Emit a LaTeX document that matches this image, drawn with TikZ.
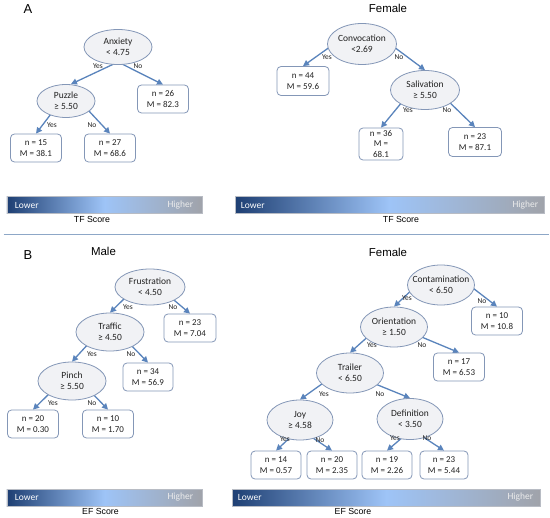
\documentclass[tikz,border=0pt]{standalone}
\usepackage{fontspec}
\setmainfont{Carlito}
\newfontfamily\arialf{Liberation Sans}
\usetikzlibrary{shapes.geometric,arrows.meta,calc,backgrounds}
\definecolor{edgeblue}{HTML}{5A84BC}
\definecolor{nodeborder}{HTML}{8497B7}
\definecolor{ellfill}{HTML}{F1F2F5}
\definecolor{navy}{HTML}{1E3F73}
\definecolor{lightb}{HTML}{9EC4F7}
\definecolor{barGray}{HTML}{A0A3AA}
\definecolor{barEdge}{HTML}{B8BCC4}
\definecolor{sepline}{HTML}{8DA7C7}
\definecolor{txt}{HTML}{222222}
\tikzset{
  splitnode/.style={ellipse, draw=nodeborder, fill=ellfill, line width=0.8bp,
    inner xsep=-12bp, inner ysep=-4bp, minimum width=67bp, minimum height=40bp,
    align=center, text=txt, font=\fontsize{9.5}{11.5}\selectfont},
  leafbox/.style={rectangle, rounded corners=4bp, draw=nodeborder, fill=white, line width=0.8bp,
    minimum width=51bp, minimum height=28bp, inner sep=0pt, align=center, text=txt,
    font=\fontsize{9}{11}\selectfont},
  arr/.style={draw=edgeblue, line width=1.3bp, -{Triangle[length=6bp,width=6bp]}},
  yn/.style={inner sep=0pt, text=txt, font=\fontsize{7.5}{8}\selectfont},
  scorebar/.style={rectangle, inner sep=0pt, minimum height=17bp, draw=barEdge, line width=0.5bp,
    left color=navy, right color=barGray, middle color=lightb},
  barlbl/.style={inner sep=0pt, text=white, font=\fontsize{9.5}{11}\selectfont},
  title/.style={inner sep=0pt, text=black, font=\arialf\fontsize{11.5}{13}\selectfont},
  panel/.style={inner sep=0pt, text=black, font=\arialf\fontsize{13}{15}\selectfont},
  scorelbl/.style={inner sep=0pt, text=black, font=\arialf\fontsize{8.8}{10}\selectfont}
}
\begin{document}
\begin{tikzpicture}[x=1bp,y=-1bp]
\useasboundingbox (0,0) rectangle (550,518);

% ---------- Panel A ----------
\node[panel] (pa) at (28,9) {A};
\node[title] (fa) at (388,8) {Female};

\node[splitnode, minimum width=68bp, minimum height=35bp] (anx) at (118,47) {Anxiety\\< 4.75};
\node[splitnode, minimum width=58bp, minimum height=33bp] (puz) at (66,101) {Puzzle\\≥ 5.50};
\node[leafbox] (a26) at (163,99) {n = 26\\M = 82.3};
\node[leafbox] (a15) at (36,148) {n = 15\\M = 38.1};
\node[leafbox] (a27) at (110,148) {n = 27\\M = 68.6};

\node[splitnode, minimum width=69bp, minimum height=41bp] (convo) at (362,44) {Convocation\\<2.69};
\node[splitnode, minimum width=69bp, minimum height=39bp] (sal) at (425,90) {Salivation\\≥ 5.50};
\node[leafbox, minimum width=52bp, minimum height=29bp] (f44) at (303,81) {n = 44\\M = 59.6};
\node[leafbox, minimum width=44bp, minimum height=32bp] (f36) at (381,144) {n = 36\\M =\\68.1};
\node[leafbox, minimum width=53bp, minimum height=29bp] (f23) at (475,142) {n = 23\\M = 87.1};

\node[yn] (ya1) at (98,66) {Yes};
\node[yn] (na1) at (138,66) {No};
\node[yn] (ya2) at (52,125) {Yes};
\node[yn] (na2) at (92,125) {No};
\node[yn] (ya3) at (327,57) {Yes};
\node[yn] (na3) at (399,57) {No};
\node[yn] (ya4) at (408,110) {Yes};
\node[yn] (na4) at (447,110) {No};

\node[scorebar, minimum width=195bp] (bar1) at (104.5,205) {};
\node[barlbl, anchor=west] (lo1) at ($(bar1.west)+(8,0)$) {Lower};
\node[barlbl, anchor=east, text=white!85!gray] (hi1) at ($(bar1.east)+(-9,0)$) {Higher};
\node[scorelbl] (tf1) at (92,219) {TF Score};

\node[scorebar, minimum width=309bp] (bar2) at (389.5,205) {};
\node[barlbl, anchor=west] (lo2) at ($(bar2.west)+(6,0)$) {Lower};
\node[barlbl, anchor=east, text=white!85!gray] (hi2) at ($(bar2.east)+(-6,0)$) {Higher};
\node[scorelbl] (tf2) at (401,219) {TF Score};

\draw[sepline, line width=1bp] (3.5,234) -- (549,234);

% ---------- Panel B ----------
\node[panel] (pb) at (28,255) {B};
\node[title] (mb) at (103.5,251) {Male};
\node[title] (fb) at (388,252) {Female};

\node[splitnode, minimum width=70bp, minimum height=36bp] (fru) at (150,287) {Frustration\\< 4.50};
\node[splitnode, minimum width=68bp, minimum height=38bp] (traf) at (110,332) {Traffic\\≥ 4.50};
\node[splitnode, minimum width=68bp, minimum height=38bp] (pin) at (72,381) {Pinch\\≥ 5.50};
\node[leafbox, minimum width=52bp] (m23) at (190,328) {n = 23\\M = 7.04};
\node[leafbox, minimum width=50bp] (m34) at (148,377) {n = 34\\M = 56.9};
\node[leafbox] (m20) at (33,424) {n = 20\\M = 0.30};
\node[leafbox] (m10) at (108,424) {n = 10\\M = 1.70};

\node[yn] (yb1) at (128,307) {Yes};
\node[yn] (nb1) at (173,307) {No};
\node[yn] (yb2) at (92,354) {Yes};
\node[yn] (nb2) at (131,354) {No};
\node[yn] (yb3) at (53,403) {Yes};
\node[yn] (nb3) at (92,403) {No};

\node[splitnode] (con) at (441,285) {Contamination\\< 6.50};
\node[splitnode] (ori) at (394,327) {Orientation\\≥ 1.50};
\node[splitnode] (trl) at (350,373) {Trailer\\< 6.50};
\node[splitnode, minimum width=66bp] (joy) at (300,420) {Joy\\≥ 4.58};
\node[splitnode, minimum width=66bp, minimum height=41bp] (defn) at (410,419) {Definition\\< 3.50};
\node[leafbox] (g10) at (497,321) {n = 10\\M = 10.8};
\node[leafbox] (g17) at (459,367) {n = 17\\M = 6.53};
\node[leafbox, minimum width=50bp] (g14) at (276,465) {n = 14\\M = 0.57};
\node[leafbox, minimum width=50bp] (g20) at (332,465) {n = 20\\M = 2.35};
\node[leafbox, minimum width=50bp] (g19) at (387,465) {n = 19\\M = 2.26};
\node[leafbox, minimum width=48bp] (g23) at (444,465) {n = 23\\M = 5.44};

\node[yn] (yc1) at (407,298) {Yes};
\node[yn] (nc1) at (482,301) {No};
\node[yn] (yc2) at (372,345) {Yes};
\node[yn] (nc2) at (422,345) {No};
\node[yn] (yc3) at (324,394) {Yes};
\node[yn] (nc3) at (380,394) {No};
\node[yn] (yc4) at (285,439) {Yes};
\node[yn] (nc4) at (320,440) {No};
\node[yn] (yc5) at (395,438) {Yes};
\node[yn] (nc5) at (427,438) {No};

\node[scorebar, minimum width=195bp] (bar3) at (104.5,497.5) {};
\node[barlbl, anchor=west] (lo3) at ($(bar3.west)+(8,0)$) {Lower};
\node[barlbl, anchor=east, text=white!85!gray] (hi3) at ($(bar3.east)+(-9,0)$) {Higher};
\node[scorelbl] (ef1) at (100.5,511.5) {EF Score};

\node[scorebar, minimum width=308bp] (bar4) at (386,497.5) {};
\node[barlbl, anchor=west] (lo4) at ($(bar4.west)+(6,0)$) {Lower};
\node[barlbl, anchor=east, text=white!85!gray] (hi4) at ($(bar4.east)+(-7,0)$) {Higher};
\node[scorelbl] (ef2) at (353,511.5) {EF Score};

% ---------- connectors ----------
\begin{pgfonlayer}{background}
\fill[white] (0,0) rectangle (550,518);
\draw[arr] ($(anx.center)+(0,15)$) -- ($(puz.north)+(5,0)$);
\draw[arr] ($(anx.center)+(0,15)$) -- (a26.north);
\draw[arr] ($(puz.center)+(-12,9)$) -- (a15.north);
\draw[arr] ($(puz.center)+(22,9)$) -- (a27.north);
\draw[arr] ($(convo.center)+(-28,0)$) -- (f44.north);
\draw[arr] ($(convo.center)+(28,0)$) -- (sal.north);
\draw[arr] ($(sal.center)+(-18,6)$) -- (f36.north);
\draw[arr] ($(sal.center)+(18,6)$) -- (f23.north);
\draw[arr] ($(fru.center)+(-22,8)$) -- (traf.north);
\draw[arr] ($(fru.center)+(18,8)$) -- (m23.north);
\draw[arr] ($(traf.center)+(-20,10)$) -- (pin.north);
\draw[arr] ($(traf.center)+(18,10)$) -- (m34.north);
\draw[arr] ($(pin.center)+(-20,10)$) -- (m20.north);
\draw[arr] ($(pin.center)+(18,10)$) -- (m10.north);
\draw[arr] ($(con.center)+(-26,2)$) -- (ori.north);
\draw[arr] ($(con.center)+(28,0)$) -- (g10.north);
\draw[arr] ($(ori.center)+(-22,6)$) -- (trl.north);
\draw[arr] ($(ori.center)+(18,6)$) -- (g17.north);
\draw[arr] ($(trl.center)+(-24,8)$) -- (joy.north);
\draw[arr] ($(trl.center)+(18,8)$) -- (defn.north);
\draw[arr] ($(joy.center)+(-4,12)$) -- (g14.north);
\draw[arr] ($(joy.center)+(4,12)$) -- (g20.north);
\draw[arr] ($(defn.center)+(0,12)$) -- (g19.north);
\draw[arr] ($(defn.center)+(4,12)$) -- (g23.north);
\end{pgfonlayer}
\end{tikzpicture}
\end{document}
